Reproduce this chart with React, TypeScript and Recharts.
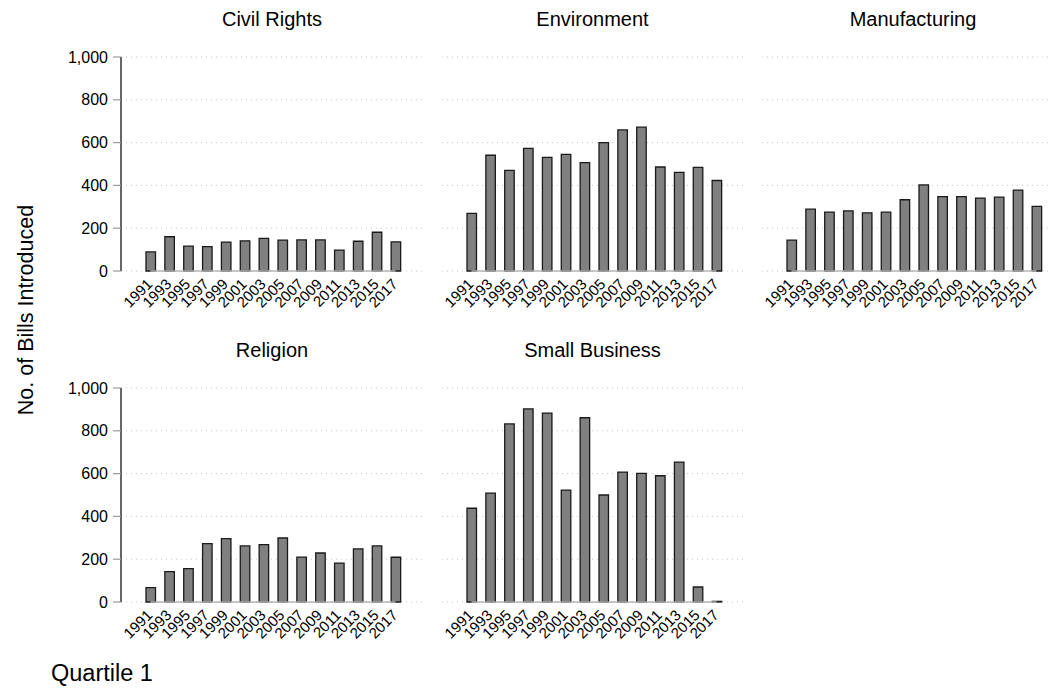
import { Bar, BarChart, CartesianGrid, ReferenceLine, XAxis, YAxis } from 'recharts';

const years = ['1991', '1993', '1995', '1997', '1999', '2001', '2003', '2005', '2007', '2009', '2011', '2013', '2015', '2017'];

const civilRights = [89, 160, 116, 114, 135, 141, 152, 144, 145, 145, 98, 139, 181, 136];
const environment = [269, 541, 470, 573, 531, 545, 506, 600, 659, 672, 486, 461, 484, 423];
const manufacturing = [144, 289, 275, 281, 272, 275, 333, 402, 348, 348, 341, 345, 378, 302];
const religion = [67, 142, 156, 273, 296, 262, 268, 299, 210, 229, 182, 248, 262, 209];
const smallBusiness = [438, 509, 832, 902, 883, 523, 861, 500, 607, 601, 590, 654, 70, 3];

const yTicks = [0, 200, 400, 600, 800, 1000];

const FONT = '"Liberation Sans", Arial, Helvetica, sans-serif';

// plot area geometry shared by all panels
const PLOT_W = 302;
const PLOT_H = 214;
const AXIS_W = 70;
const TOP_PAD = 10;
const RIGHT_PAD = 10;
const X_AXIS_H = 60;

const colLeft = [121, 441.5, 762];
const rowTop = [57, 387.5];

interface Panel {
  title: string;
  values: number[];
  col: number;
  row: number;
}

const panels: Panel[] = [
  { title: 'Civil Rights', values: civilRights, col: 0, row: 0 },
  { title: 'Environment', values: environment, col: 1, row: 0 },
  { title: 'Manufacturing', values: manufacturing, col: 2, row: 0 },
  { title: 'Religion', values: religion, col: 0, row: 1 },
  { title: 'Small Business', values: smallBusiness, col: 1, row: 1 },
];

const YearTick = ({ x, y, payload }: { x: number; y: number; payload: { value: string } }) => {
  const tx = x + 3;
  const ty = y + 14;
  return (
    <text
      x={tx}
      y={ty}
      transform={`rotate(-45 ${tx} ${ty})`}
      textAnchor="end"
      fontSize={15}
      fontFamily={FONT}
      fill="#000"
    >
      {payload.value}
    </text>
  );
};

const formatCount = (v: number) => v.toLocaleString('en-US');

const PanelChart = ({ title, values, col, row }: Panel) => {
  const data = years.map((year, i) => ({ year, count: values[i] }));
  const showY = col === 0;
  const left = colLeft[col] - AXIS_W;
  const top = rowTop[row] - TOP_PAD;

  return (
    <>
      <div
        style={{
          position: 'absolute',
          left: colLeft[col],
          top: rowTop[row] - 50,
          width: PLOT_W,
          textAlign: 'center',
          fontFamily: FONT,
          fontSize: 20,
          lineHeight: '24px',
          color: '#000',
        }}
      >
        {title}
      </div>
      <div style={{ position: 'absolute', left, top }}>
        <BarChart
          width={AXIS_W + PLOT_W + RIGHT_PAD}
          height={TOP_PAD + PLOT_H + X_AXIS_H}
          data={data}
          margin={{ top: TOP_PAD, right: RIGHT_PAD, bottom: 0, left: showY ? 0 : AXIS_W }}
          barSize={9.5}
        >
          <CartesianGrid vertical={false} stroke="#c8c8c8" strokeDasharray="1 4" />
          <XAxis
            dataKey="year"
            interval={0}
            axisLine={false}
            tickLine={false}
            tickSize={0}
            tickMargin={0}
            height={X_AXIS_H}
            padding={{ left: 20, right: 18 }}
            tick={YearTick}
          />
          <YAxis
            hide={!showY}
            width={AXIS_W}
            domain={[0, 1000]}
            ticks={yTicks}
            interval={0}
            tickFormatter={formatCount}
            axisLine={{ stroke: '#000', strokeWidth: 1.2 }}
            tickLine={{ stroke: '#9a9a9a', strokeWidth: 1.2 }}
            tickSize={8}
            tickMargin={5}
            tick={{ fontSize: 16, fontFamily: FONT, fill: '#000' }}
          />
          <ReferenceLine
            segment={[
              { x: years[0], y: 0 },
              { x: years[years.length - 1], y: 0 },
            ]}
            stroke="#b4b4b4"
            strokeWidth={1.5}
          />
          <Bar dataKey="count" fill="#808080" stroke="#1a1a1a" strokeWidth={1.3} isAnimationActive={false} />
        </BarChart>
      </div>
    </>
  );
};

export default function App() {
  return (
    <div
      style={{
        position: 'absolute',
        left: 0,
        top: 0,
        width: 1050,
        height: 689,
        overflow: 'hidden',
        background: '#fff',
        fontFamily: FONT,
      }}
    >
      {panels.map((p) => (
        <PanelChart key={p.title} {...p} />
      ))}
      <div
        style={{
          position: 'absolute',
          left: 25.5,
          top: 310,
          transform: 'translate(-50%, -50%) rotate(-90deg)',
          whiteSpace: 'nowrap',
          fontSize: 21.5,
          lineHeight: '26px',
          color: '#000',
        }}
      >
        No. of Bills Introduced
      </div>
      <div
        style={{
          position: 'absolute',
          left: 51,
          top: 659,
          fontSize: 23.5,
          lineHeight: '28px',
          color: '#000',
        }}
      >
        Quartile 1
      </div>
    </div>
  );
}
